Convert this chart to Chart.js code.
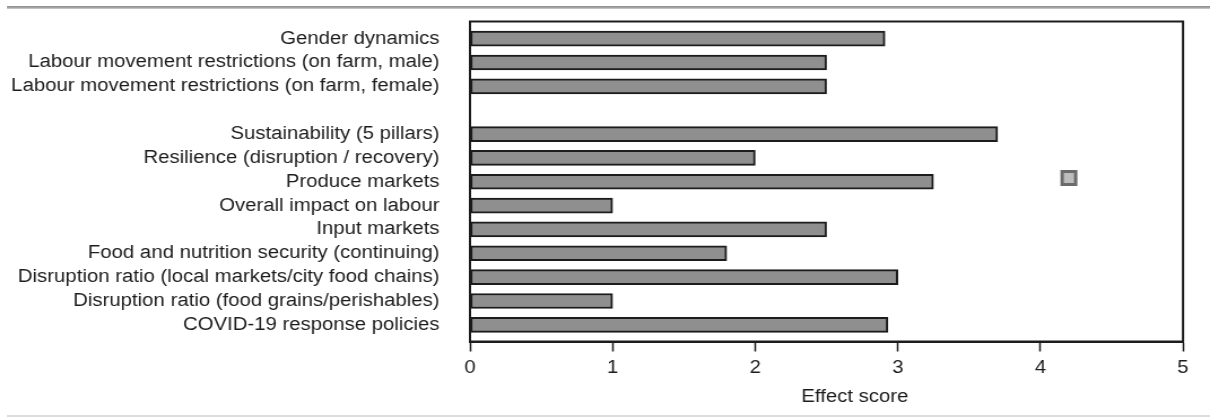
<!DOCTYPE html>
<html>
<head>
<meta charset="utf-8">
<script src="https://cdn.jsdelivr.net/npm/chart.js@4.4.0/dist/chart.umd.min.js"></script>
<style>
  html, body { margin: 0; padding: 0; background: #fff; width: 1210px; height: 419px; overflow: hidden; }
  #wrap { position: relative; width: 1210px; height: 419px; }
  #top-rule { position: absolute; left: 7px; right: 0; top: 6px; height: 3px;
              background: linear-gradient(#8a8a8a, #a8a8a8 60%, #d6d6d6); }
  #bottom-rule { position: absolute; left: 7px; right: 0; top: 415px; height: 2px; background: #dcdcdc; }
  #c { position: absolute; left: 0; top: 0; transform-origin: 0 0; }
</style>
</head>
<body>
<div id="wrap">
  <div id="top-rule"></div>
  <canvas id="c"></canvas>
  <div id="bottom-rule"></div>
</div>
<script>
// Categories from top to bottom; the empty entry is the spacer row.
const categories = [
  'Gender dynamics',
  'Labour movement restrictions (on farm, male)',
  'Labour movement restrictions (on farm, female)',
  '',
  'Sustainability (5 pillars)',
  'Resilience (disruption / recovery)',
  'Produce markets',
  'Overall impact on labour',
  'Input markets',
  'Food and nutrition security (continuing)',
  'Disruption ratio (local markets/city food chains)',
  'Disruption ratio (food grains/perishables)',
  'COVID-19 response policies'
];
const scores = [2.91, 2.5, 2.5, null, 3.7, 2.0, 3.25, 1.0, 2.5, 1.8, 3.0, 1.0, 2.93];
const xTickValues = [0, 1, 2, 3, 4, 5];
const xAxisTitle = 'Effect score';

// The figure is drawn on a narrower canvas and widened horizontally,
// which gives the lettering its wide proportions.
const STRETCH = 1.13;
const W = Math.round(1210 / STRETCH);
const H = 419;
const sx = 1210 / W;
const canvas = document.getElementById('c');
canvas.width = W; canvas.height = H;
canvas.style.width = W + 'px'; canvas.style.height = H + 'px';
canvas.style.transform = `scaleX(${sx})`;

const FONT = '"Liberation Sans", Arial, Helvetica, sans-serif';
const INK = '#1c1c1c';

const points = categories
  .map((c, i) => ({ x: scores[i], y: i }))
  .filter(p => p.x !== null);

const frame = {
  id: 'frame',
  afterDraw(chart) {
    const { ctx, chartArea: a } = chart;
    ctx.save();
    ctx.strokeStyle = INK;
    ctx.lineWidth = 2;
    ctx.strokeRect(a.left, a.top, a.right - a.left, a.bottom - a.top);

    // small key box inside the plot
    const kx = a.right - 107, ky = a.top + 150;
    ctx.fillStyle = '#bdbdbd';
    ctx.fillRect(kx, ky, 12, 13);
    ctx.strokeStyle = '#6b6b6b';
    ctx.lineWidth = 3;
    ctx.strokeRect(kx, ky, 12, 13);

    // x-axis title
    ctx.fillStyle = INK;
    ctx.font = '18px ' + FONT;
    ctx.textAlign = 'center';
    ctx.textBaseline = 'middle';
    ctx.fillText(xAxisTitle, (a.left + a.right) / 2 + 25, 397);
    ctx.restore();
  }
};

new Chart(canvas, {
  type: 'bar',
  data: {
    datasets: [{
      data: points,
      backgroundColor: '#8f8f8f',
      borderColor: INK,
      borderWidth: 2,
      borderSkipped: false,
      barThickness: 15
    }]
  },
  options: {
    indexAxis: 'y',
    responsive: false,
    animation: false,
    events: [],
    layout: { padding: { top: 21.5, right: W - 1183 / sx, left: 0, bottom: 0 } },
    plugins: { legend: { display: false }, tooltip: { enabled: false } },
    scales: {
      x: {
        type: 'linear',
        position: 'bottom',
        min: 0, max: 5,
        offset: false,
        afterBuildTicks(s) { s.ticks = xTickValues.map(v => ({ value: v })); },
        afterFit(s) { s.height = H - 341.5; s.paddingLeft = 0; s.paddingRight = 0; },
        ticks: { color: INK, font: { family: FONT, size: 18 }, padding: 6, maxRotation: 0 },
        grid: { drawOnChartArea: false, drawTicks: true, tickLength: 10, tickColor: INK, tickWidth: 1.5 },
        border: { display: true, color: INK, width: 2 }
      },
      y: {
        type: 'linear',
        reverse: true,
        offset: false,
        min: -0.72, max: 12.70,
        afterBuildTicks(s) { s.ticks = categories.map((c, i) => ({ value: i })); },
        afterFit(s) { s.width = 470 / sx; s.paddingTop = 0; s.paddingBottom = 0; },
        ticks: {
          color: INK, font: { family: FONT, size: 18 }, padding: 27, autoSkip: false,
          callback: v => categories[v] ?? ''
        },
        grid: { display: false, drawTicks: false, tickLength: 0, offset: false },
        border: { display: true, color: INK, width: 2 }
      }
    }
  },
  plugins: [frame]
});
</script>
</body>
</html>
